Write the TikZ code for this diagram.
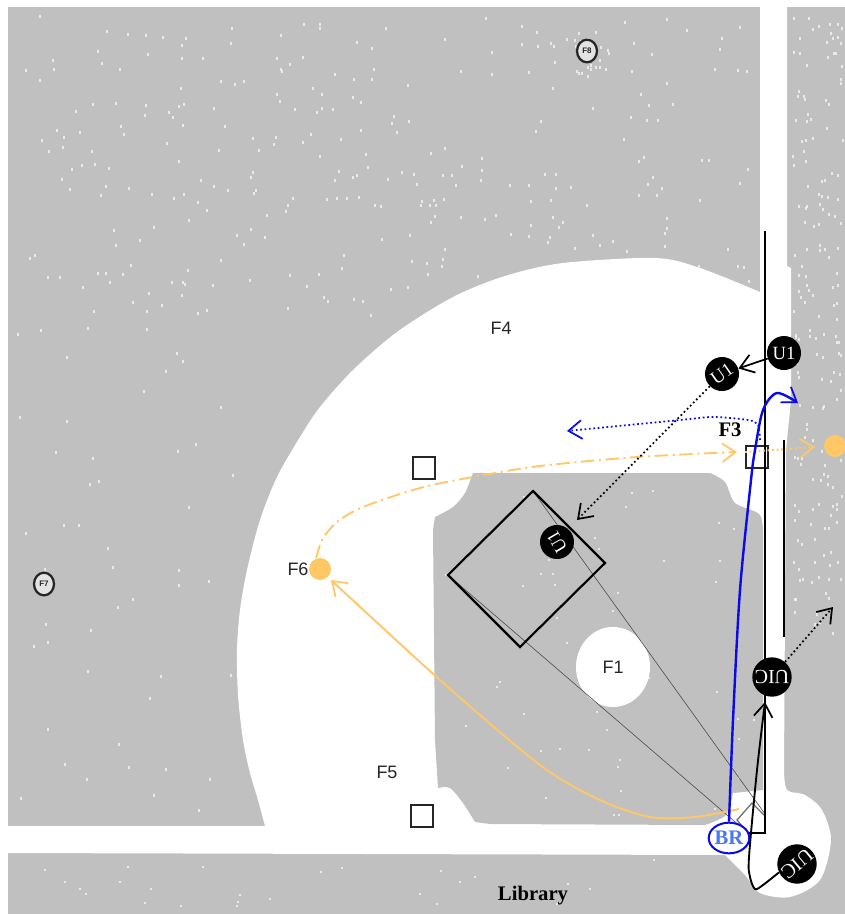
\documentclass[tikz,border=0pt]{standalone}
\usepackage{fontspec}
\setmainfont{Liberation Serif}
\newfontfamily\fieldsans{Liberation Sans}
\usetikzlibrary{arrows.meta,shapes.geometric}
\definecolor{turf}{HTML}{C0C0C0}
\definecolor{route}{HTML}{FFC766}
\definecolor{runblue}{HTML}{0A0AE6}
\definecolor{brtext}{HTML}{4A78F0}
\tikzset{
  x=0.75pt,y=-0.75pt,
  barb/.style={-{Straight Barb[length=10pt,width=14pt,line width=1.3pt]}},
  runner/.style={circle,fill=black,text=white,inner sep=0pt,minimum size=#1},
  runner/.default=25.5pt,
  base/.style={draw=black!85,fill=none,line width=1.3pt,minimum size=17pt,inner sep=0pt},
  fieldlabel/.style={font=\fieldsans\fontsize{13.5}{16}\selectfont,inner sep=0pt,text=black!85},
  boldlabel/.style={font=\bfseries\fontsize{15.5}{18}\selectfont,inner sep=0pt},
  fielder/.style={draw=black!85,line width=1.7pt,ellipse,fill=turf!45,inner sep=0pt,minimum width=15pt,minimum height=17pt,text=black!85,font=\fieldsans\bfseries\fontsize{6}{7}\selectfont},
  ball/.style={circle,fill=route,inner sep=0pt,minimum size=16.5pt},
  thinl/.style={draw=black!70,line width=0.45pt},
  blk/.style={draw=black,line width=1.3pt},
  speck/.style={fill=white,opacity=.65}
}
\begin{document}
\begin{tikzpicture}
\useasboundingbox (0,0) rectangle (845,914);
\fill[turf] (8,7) rectangle (845,914);
% speckle
\pgfmathsetseed{4711}
\foreach \i in {1,...,300}{
  \pgfmathsetmacro{\px}{20+random(0,730)}
  \pgfmathsetmacro{\py}{15+random(0,300)}
  \fill[speck] (\px,\py) rectangle ++(1.5,3.4);
}
\foreach \i in {1,...,30}{
  \pgfmathsetmacro{\px}{568+random(0,40)}
  \pgfmathsetmacro{\py}{28+random(0,46)}
  \fill[speck] (\px,\py) rectangle ++(1.6,2.6);
}
\foreach \i in {1,...,170}{
  \pgfmathsetmacro{\px}{792+random(0,50)}
  \pgfmathsetmacro{\py}{15+random(0,620)}
  \fill[speck] (\px,\py) rectangle ++(1.8,3);
}
\foreach \i in {1,...,50}{
  \pgfmathsetmacro{\px}{15+random(0,220)}
  \pgfmathsetmacro{\py}{300+random(0,510)}
  \fill[speck] (\px,\py) rectangle ++(1.6,2.6);
}
\foreach \i in {1,...,25}{
  \pgfmathsetmacro{\px}{20+random(0,680)}
  \pgfmathsetmacro{\py}{858+random(0,50)}
  \fill[speck] (\px,\py) rectangle ++(2.4,1.6);
}
% white dirt
\fill[white] plot[smooth] coordinates {(265,826) (258,800) (250,773) (243,740) (238,695) (237,650) (240,610) (247,570) (260,520) (277,477) (300,437) (320,407) (353,370) (397,332) (453,297) (505,276) (563,263) (655,258) (700,268) (760,292)}
  -- (760,0) -- (787,0) -- (787,266) -- (791,268) -- (791,400) -- (786,450) -- (784,770)
  -- plot[smooth] coordinates {(784,770) (787,790) (805,795) (822,810) (831,840) (820,880) (790,897) (760,893) (745,875) (725,855)}
  -- (8,853) -- (8,826) -- cycle;
% infield
\fill[turf] (433,530) -- plot[smooth] coordinates {(435,517) (453,507) (465,493) (473,473)}
  -- (710,473)
  -- plot[smooth] coordinates {(710,473) (725,482) (735,503) (760,515) (763,540)}
  -- (763,790) -- (733,793)
  -- plot[smooth] coordinates {(733,793) (726,815) (705,825)}
  -- (490,824) -- (475,822)
  -- plot[smooth] coordinates {(475,822) (463,803) (450,788) (438,788)}
  -- (435,740) -- cycle;
\foreach \i in {1,...,45}{
  \pgfmathsetmacro{\px}{445+random(0,310)}
  \pgfmathsetmacro{\py}{485+random(0,330)}
  \fill[speck] (\px,\py) rectangle ++(1.8,1.8);
}
\fill[white] (613,667) ellipse [x radius=37,y radius=40];
% home plate marks
\coordinate (hpA) at (737,820);
\coordinate (hpB) at (752,803);
\coordinate (hpC) at (765,816);
\coordinate (hpD) at (748,833);
\draw[draw=black!55,line width=1pt] (hpD) -- (hpA) -- (hpB) -- (hpC);
% field labels
\node[fieldlabel] (f4) at (501,328) {F4};
\node[fieldlabel] (f1) at (613,667) {F1};
\node[fieldlabel] (f5) at (387,772) {F5};
\node[fieldlabel] (f6) at (298,569) {F6};
\node[boldlabel] (f3) at (730,430) {F3};
\node[boldlabel] (lib) at (533,896) {Library};
\node[fielder] (f8) at (587,51) {F8};
\node[fielder] (f7) at (44,584) {F7};
% bases
\node[base] (b2) at (424,468) {};
\node[base] (b3) at (422,816) {};
\node[base] (b1) at (757,457) {};
% rotated zone
\coordinate (zT) at (533,491);
\coordinate (zR) at (605,563);
\coordinate (zB) at (520,647);
\coordinate (zL) at (448,575);
\coordinate (homeR) at (765,814);
\draw[thinl] (zT) -- (homeR);
\draw[thinl] (zL) -- (hpD);
\draw[draw=black,line width=1.6pt] (zT) -- (zR) -- (zB) -- (zL) -- cycle;
% vertical lines
\coordinate (vaT) at (765,231);
\coordinate (vaB) at (765,833);
\coordinate (vbT) at (784,440);
\coordinate (vbB) at (784,637);
\draw[blk] (vaT) -- (vaB) -- (hpD);
\draw[draw=black,line width=1.6pt] (vbT) -- (vbB);
% orange balls
\node[ball] (ballA) at (320,569) {};
\node[ball] (ballB) at (835,446) {};
\coordinate (oTip) at (331,580);
\coordinate (oStart) at (739,809);
\coordinate (dTip) at (737,452);
\coordinate (dotS) at (745,452);
\coordinate (dotE) at (815,447);
\draw[route,line width=1.4pt,barb] plot[smooth] coordinates {(oStart) (695,817) (650,817) (600,800) (540,765) (440,680) (oTip)};
\draw[route,line width=1.4pt,barb,dash pattern=on 10pt off 3.5pt on 1.5pt off 3.5pt] plot[smooth] coordinates {(316,558) (320,545) (323,538) (337,522) (363,507) (420,488) (473,477) (540,466) (637,457) (dTip)};
\draw[route,line width=1.4pt,barb,dotted] (dotS) -- (dotE);
% runners
\node[runner,font=\fontsize{14}{16}\selectfont] (uA) at (784,353) {U1};
\node[runner,font=\fontsize{14}{16}\selectfont,rotate=35] (uB) at (722,374) {U1};
\node[runner,font=\fontsize{14}{16}\selectfont,rotate=120] (uC) at (557,542) {U1};
\node[runner=29.5pt,font=\fontsize{15}{17}\selectfont,rotate=180] (uicA) at (772,677) {UIC};
\node[runner=29.5pt,font=\fontsize{15}{17}\selectfont,rotate=-140] (uicB) at (797,864) {UIC};
\coordinate (uTip) at (577,520);
\coordinate (uicTip) at (833,607);
\coordinate (uicIn) at (765,702);
\draw[black,line width=1.3pt,barb] (uA) -- (uB);
\draw[black,line width=1.3pt,barb,dotted] (uB) -- (uTip);
\draw[black,line width=1.3pt,barb,dotted] (uicA) -- (uicTip);
\draw[black,line width=1.4pt,barb] plot[smooth] coordinates {(uicB.345) (763,885) (755,889) (750,877) (749,857) (757,770) (uicIn)};
% batter
\node[draw=runblue,line width=1.5pt,fill=white,ellipse,inner sep=0pt,minimum width=25.5pt,minimum height=23pt,text=brtext,font=\bfseries\fontsize{15.5}{18}\selectfont] (br) at (729,838) {BR};
\coordinate (bTip) at (798,403);
\coordinate (dbS) at (760,440);
\coordinate (dbE) at (567,431);
\draw[runblue,line width=1.8pt,barb] plot[smooth] coordinates {(br.north) (733,720) (740,590) (751,480) (755,450) (763,410) (777,393) (bTip)};
\draw[runblue,line width=1.3pt,barb,dotted] plot[smooth] coordinates {(dbS) (758,425) (748,420) (713,417) (680,420) (dbE)};
\end{tikzpicture}
\end{document}
